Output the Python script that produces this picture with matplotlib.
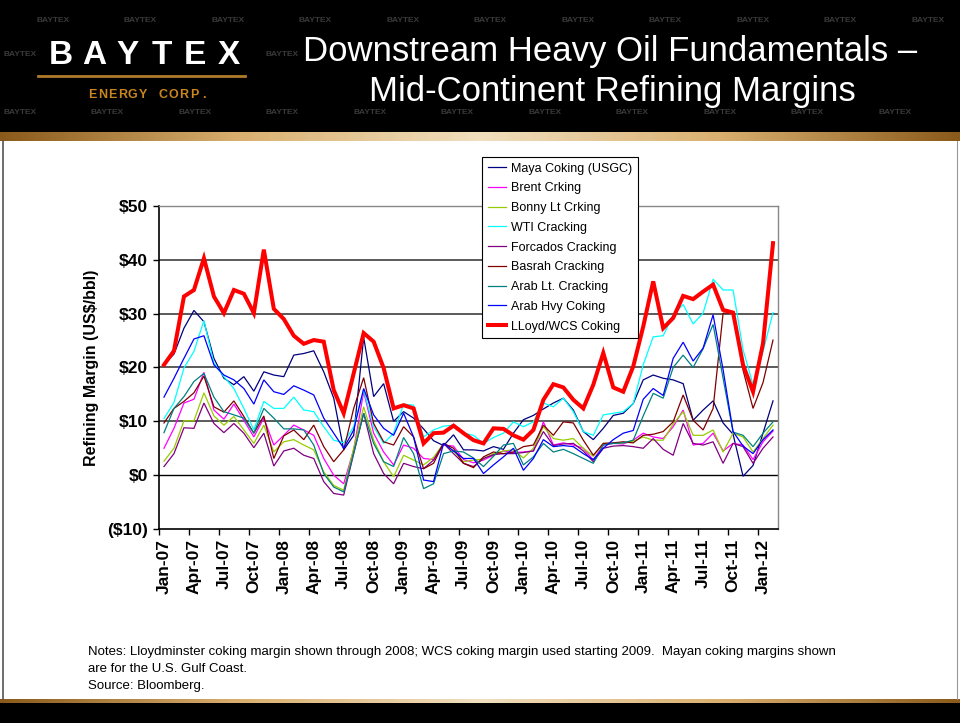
import numpy as np
import pandas as pd
import matplotlib
matplotlib.use("Agg")
import matplotlib.pyplot as plt
from matplotlib.patches import Rectangle
from matplotlib.lines import Line2D

plt.rcParams['font.family'] = ['Liberation Sans', 'DejaVu Sans']

# ---- data (US$/bbl), monthly Jan-07 .. Feb-12 ----
months = pd.date_range('2007-01-01', periods=62, freq='MS')
month_labels = [d.strftime('%b-%y') for d in months]

maya = [20.5, 22.5, 27.3, 30.6, 28.5, 21.7, 18.0, 16.8, 18.3, 15.6, 19.2, 18.6, 18.3, 22.3, 22.6, 23.1,
        19.2, 14.3, 4.7, 7.4, 25.6, 14.6, 17.0, 10.0, 11.8, 10.6, 8.6, 6.4, 5.5, 7.5, 4.7, 4.7,
        4.5, 5.3, 4.8, 7.8, 10.3, 11.1, 12.3, 13.4, 14.3, 12.1, 8.1, 6.6, 8.7, 11.1, 11.5, 13.3,
        17.7, 18.6, 18.0, 17.7, 17.0, 10.2, 12.1, 13.8, 9.7, 7.6, -0.2, 1.8, 7.8, 13.8]
brent = [5.0, 8.7, 13.4, 14.1, 19.1, 12.1, 10.4, 13.2, 10.2, 7.1, 10.6, 5.6, 7.4, 9.3, 8.4, 7.4,
         3.1, 0.0, -1.6, 4.7, 15.5, 7.8, 4.3, 1.9, 5.6, 5.0, 3.1, 2.9, 5.6, 5.4, 2.9, 2.3,
         2.8, 3.7, 4.5, 4.2, 4.3, 4.5, 9.9, 5.6, 6.0, 5.6, 5.0, 2.8, 5.6, 5.9, 5.8, 6.5,
         7.8, 7.1, 6.8, 9.0, 12.1, 5.6, 5.9, 7.8, 4.5, 5.9, 5.6, 2.9, 6.2, 8.2]
bonny = [2.6, 5.0, 10.1, 10.1, 15.3, 11.0, 9.3, 10.9, 8.4, 5.9, 9.3, 4.3, 6.2, 6.6, 5.6, 4.7,
         0.6, -1.9, -2.8, 5.0, 12.7, 6.5, 2.5, -0.3, 3.7, 2.8, 1.9, 3.3, 5.9, 4.5, 2.5, 2.8,
         3.0, 4.0, 4.5, 4.7, 3.2, 5.0, 9.0, 6.8, 6.5, 6.8, 5.0, 3.5, 5.9, 5.9, 6.0, 6.3,
         7.1, 6.5, 6.5, 9.5, 11.8, 7.4, 7.4, 8.4, 4.3, 7.8, 7.1, 4.3, 6.8, 9.3]
wti = [10.5, 13.5, 19.9, 23.0, 28.7, 20.8, 18.3, 16.1, 12.4, 8.4, 13.7, 12.4, 12.4, 14.5, 12.1, 11.8,
       9.0, 6.5, 6.0, 9.0, 15.8, 9.0, 5.9, 7.8, 13.2, 13.0, 7.1, 8.4, 9.1, 9.3, 7.8, 7.4,
       5.9, 7.0, 7.8, 9.9, 9.0, 9.9, 13.4, 12.7, 14.3, 11.8, 8.1, 7.4, 11.2, 11.5, 11.8, 13.3,
       20.5, 25.7, 25.9, 29.8, 31.7, 28.1, 30.1, 36.4, 34.4, 34.4, 23.3, 16.8, 23.0, 30.2]
forcados = [1.6, 4.0, 8.8, 8.7, 13.4, 9.6, 7.9, 9.6, 7.8, 5.1, 7.8, 1.7, 4.5, 5.0, 3.7, 3.1,
            -1.2, -3.4, -3.7, 4.0, 11.5, 4.0, 0.3, -1.6, 2.2, 1.6, 1.2, 2.8, 5.9, 4.0, 2.2, 1.6,
            3.1, 3.8, 4.0, 4.0, 4.2, 4.5, 8.1, 5.5, 5.8, 5.9, 4.5, 2.5, 5.0, 5.4, 5.5, 5.3,
            5.0, 6.8, 4.8, 3.7, 9.6, 5.9, 5.6, 6.2, 2.2, 5.9, 5.3, 2.2, 5.0, 7.1]
basrah = [9.7, 12.4, 13.7, 15.3, 18.4, 12.7, 11.7, 13.8, 10.9, 7.8, 11.0, 3.1, 7.3, 8.4, 6.6, 9.3,
          5.3, 2.5, 4.7, 12.4, 18.1, 9.6, 6.2, 5.6, 9.0, 7.1, 1.2, 2.2, 5.9, 5.0, 2.2, 1.4,
          3.4, 4.3, 4.0, 4.3, 5.3, 5.6, 9.3, 7.4, 9.9, 9.7, 6.5, 3.7, 5.9, 6.0, 6.2, 6.0,
          7.4, 7.6, 8.1, 9.9, 14.9, 10.2, 8.4, 12.4, 30.1, 30.1, 19.5, 12.4, 17.2, 25.1]
arab_lt = [7.9, 12.4, 14.6, 17.4, 18.9, 14.5, 11.8, 11.2, 10.6, 7.8, 12.4, 10.6, 8.6, 8.6, 8.4, 5.6,
           0.3, -2.2, -3.1, 4.1, 11.5, 5.9, 2.5, 1.6, 7.0, 4.0, -2.5, -1.6, 4.0, 4.5, 4.3, 3.2,
           1.6, 3.5, 5.6, 5.9, 1.9, 3.4, 5.9, 4.3, 4.8, 4.0, 3.1, 2.2, 5.6, 5.9, 6.0, 6.5,
           11.0, 15.2, 14.3, 20.0, 22.3, 20.0, 23.5, 28.0, 18.0, 8.0, 7.4, 5.3, 7.8, 9.9]
arab_hvy = [14.5, 18.0, 21.7, 25.3, 25.9, 20.5, 18.6, 17.7, 16.1, 13.2, 17.7, 15.5, 15.0, 16.6, 15.8, 14.9,
            10.6, 7.8, 5.0, 8.4, 16.1, 11.2, 8.7, 7.4, 11.5, 7.1, -0.9, -1.2, 5.9, 4.5, 3.1, 3.1,
            0.3, 1.9, 3.4, 5.0, 0.9, 3.1, 6.6, 5.3, 5.5, 5.3, 4.0, 2.9, 5.0, 6.6, 7.8, 8.3,
            14.1, 16.1, 14.8, 21.7, 24.7, 21.2, 23.6, 29.8, 19.6, 8.1, 5.4, 4.0, 6.6, 8.4]
lloyd_wcs = [20.5, 23.1, 33.2, 34.4, 40.3, 33.2, 30.1, 34.4, 33.7, 30.1, 41.9, 30.9, 29.0, 25.9, 24.4, 25.1,
             24.8, 15.8, 11.5, 18.9, 26.4, 24.8, 19.9, 12.4, 13.0, 12.4, 5.9, 7.8, 7.9, 9.2, 7.8, 6.5,
             5.9, 8.7, 8.6, 7.4, 6.6, 8.4, 14.0, 16.9, 16.3, 14.0, 12.4, 16.8, 22.7, 16.3, 15.5, 20.2,
             27.6, 36.0, 27.3, 29.2, 33.3, 32.7, 34.1, 35.4, 30.7, 30.2, 20.5, 15.5, 24.5, 43.1]

series = [
    ("Maya Coking (USGC)", maya, "#000080", 0.9),
    ("Brent Crking", brent, "#FF00FF", 0.9),
    ("Bonny Lt Crking", bonny, "#99CC00", 0.9),
    ("WTI Cracking", wti, "#00FFFF", 0.9),
    ("Forcados Cracking", forcados, "#800080", 0.9),
    ("Basrah Cracking", basrah, "#800000", 0.9),
    ("Arab Lt. Cracking", arab_lt, "#008080", 0.9),
    ("Arab Hvy Coking", arab_hvy, "#0000FF", 0.9),
    ("LLoyd/WCS Coking", lloyd_wcs, "#FF0000", 2.9),
]

fig = plt.figure(figsize=(9.6, 7.23), dpi=100)
fig.patch.set_facecolor('white')

# ---- slide decoration ----
H = 723.0
def fy(y):
    return 1 - y / H

fig.patches.append(Rectangle((0, fy(132)), 1, 132 / H, transform=fig.transFigure,
                             facecolor='black', edgecolor='none', zorder=0))
fig.patches.append(Rectangle((0, 0), 1, 20 / H, transform=fig.transFigure,
                             facecolor='black', edgecolor='none', zorder=0))
grad = np.linspace(0, 1, 256).reshape(1, -1)
gold = matplotlib.colors.LinearSegmentedColormap.from_list(
    'g', ['#8a5a1a', '#d9b070', '#f1dfbf', '#d9b070', '#8a5a1a'])
for y0, y1 in [(132, 141), (699, 703)]:
    gax = fig.add_axes([0, fy(y1), 1, (y1 - y0) / H])
    gax.imshow(np.vstack([grad, grad]), aspect='auto', cmap=gold)
    gax.axis('off')
fig.add_artist(Line2D([3 / 960, 3 / 960], [fy(141), fy(699)], color='#555555', lw=1.2))
fig.add_artist(Line2D([957 / 960, 957 / 960], [fy(141), fy(699)], color='#999999', lw=0.8))

# faint watermark, kept clear of logo and title
for row_y, x0 in [(20, 53), (55, 20), (88, 75), (113, 20)]:
    for k in range(11):
        wx = x0 + k * 87.5
        if wx > 930:
            continue
        if 30 < row_y < 105 and (35 < wx < 265 or 285 < wx < 945):
            continue
        fig.text(wx / 960, fy(row_y), "BAYTEX", color='#3a3a3a',
                 fontsize=6, ha='center', va='center', fontweight='bold')

# logo
for i, ch in enumerate("BAYTEX"):
    fig.text((61 + i * 33.5) / 960, fy(55), ch, color='white', fontsize=24,
             fontweight='bold', ha='center', va='center')
fig.add_artist(Line2D([38 / 960, 245 / 960], [fy(76), fy(76)], color='#b07a2a', lw=2))
for i, ch in enumerate("ENERGY CORP."):
    fig.text((92 + i * 10.2) / 960, fy(95), ch, color='#c8861e', fontsize=9,
             fontweight='bold', ha='center', va='center')

fig.text(610 / 960, fy(52), "Downstream Heavy Oil Fundamentals \u2013", color='white',
         fontsize=25, ha='center', va='center')
fig.text(612 / 960, fy(92), "Mid-Continent Refining Margins", color='white',
         fontsize=25, ha='center', va='center')

# ---- chart ----
ax = fig.add_axes([159 / 960, fy(529), (778 - 159) / 960, (529 - 206) / H])
x = np.arange(len(months))
for name, vals, col, lw in series:
    ax.plot(x, vals, color=col, lw=lw, label=name, solid_joinstyle='miter')

ax.set_xlim(-0.5, len(months) - 0.5)
ax.set_ylim(-10, 50)
ax.set_yticks(np.arange(-10, 51, 10))
ax.set_yticklabels(["($10)", "$0", "$10", "$20", "$30", "$40", "$50"],
                   fontsize=12.5, fontweight='bold')
for yv in range(10, 51, 10):
    ax.axhline(yv, color='#5a5a5a', lw=1.4, zorder=0)
ax.axhline(0, color='black', lw=1.0, zorder=0)

ax.set_xticks(x[::3])
ax.set_xticklabels(month_labels[::3], rotation=90, fontsize=12.5, fontweight='bold')
ax.set_xticks(np.arange(-0.5, len(months), 3), minor=True)
ax.tick_params(axis='x', which='major', length=0, pad=7)
ax.tick_params(axis='x', which='minor', length=4, direction='out', width=1)
ax.tick_params(axis='y', length=4, direction='out', width=1, pad=4)

for s in ['left', 'bottom']:
    ax.spines[s].set_color('black')
    ax.spines[s].set_linewidth(1.2)
for s in ['top', 'right']:
    ax.spines[s].set_color('#888888')
    ax.spines[s].set_linewidth(1.0)

ax.set_ylabel("Refining Margin (US$/bbl)", fontsize=11.5, fontweight='bold', labelpad=6)

leg = ax.legend(loc='upper left', bbox_to_anchor=((482 - 159) / 619, (529 - 157) / 323),
                fontsize=9, frameon=True, fancybox=False, edgecolor='black', framealpha=1,
                handlelength=1.5, borderpad=0.45, labelspacing=0.62, handletextpad=0.4,
                borderaxespad=0)
leg.get_frame().set_linewidth(0.8)

# notes
notes = ["Notes: Lloydminster coking margin shown through 2008; WCS coking margin used starting 2009.  Mayan coking margins shown",
         "are for the U.S. Gulf Coast.",
         "Source: Bloomberg."]
for i, line in enumerate(notes):
    fig.text(88 / 960, fy(652 + i * 17), line, fontsize=9.5, ha='left', va='center')

fig.savefig("out.png", dpi=100, facecolor=fig.get_facecolor())
